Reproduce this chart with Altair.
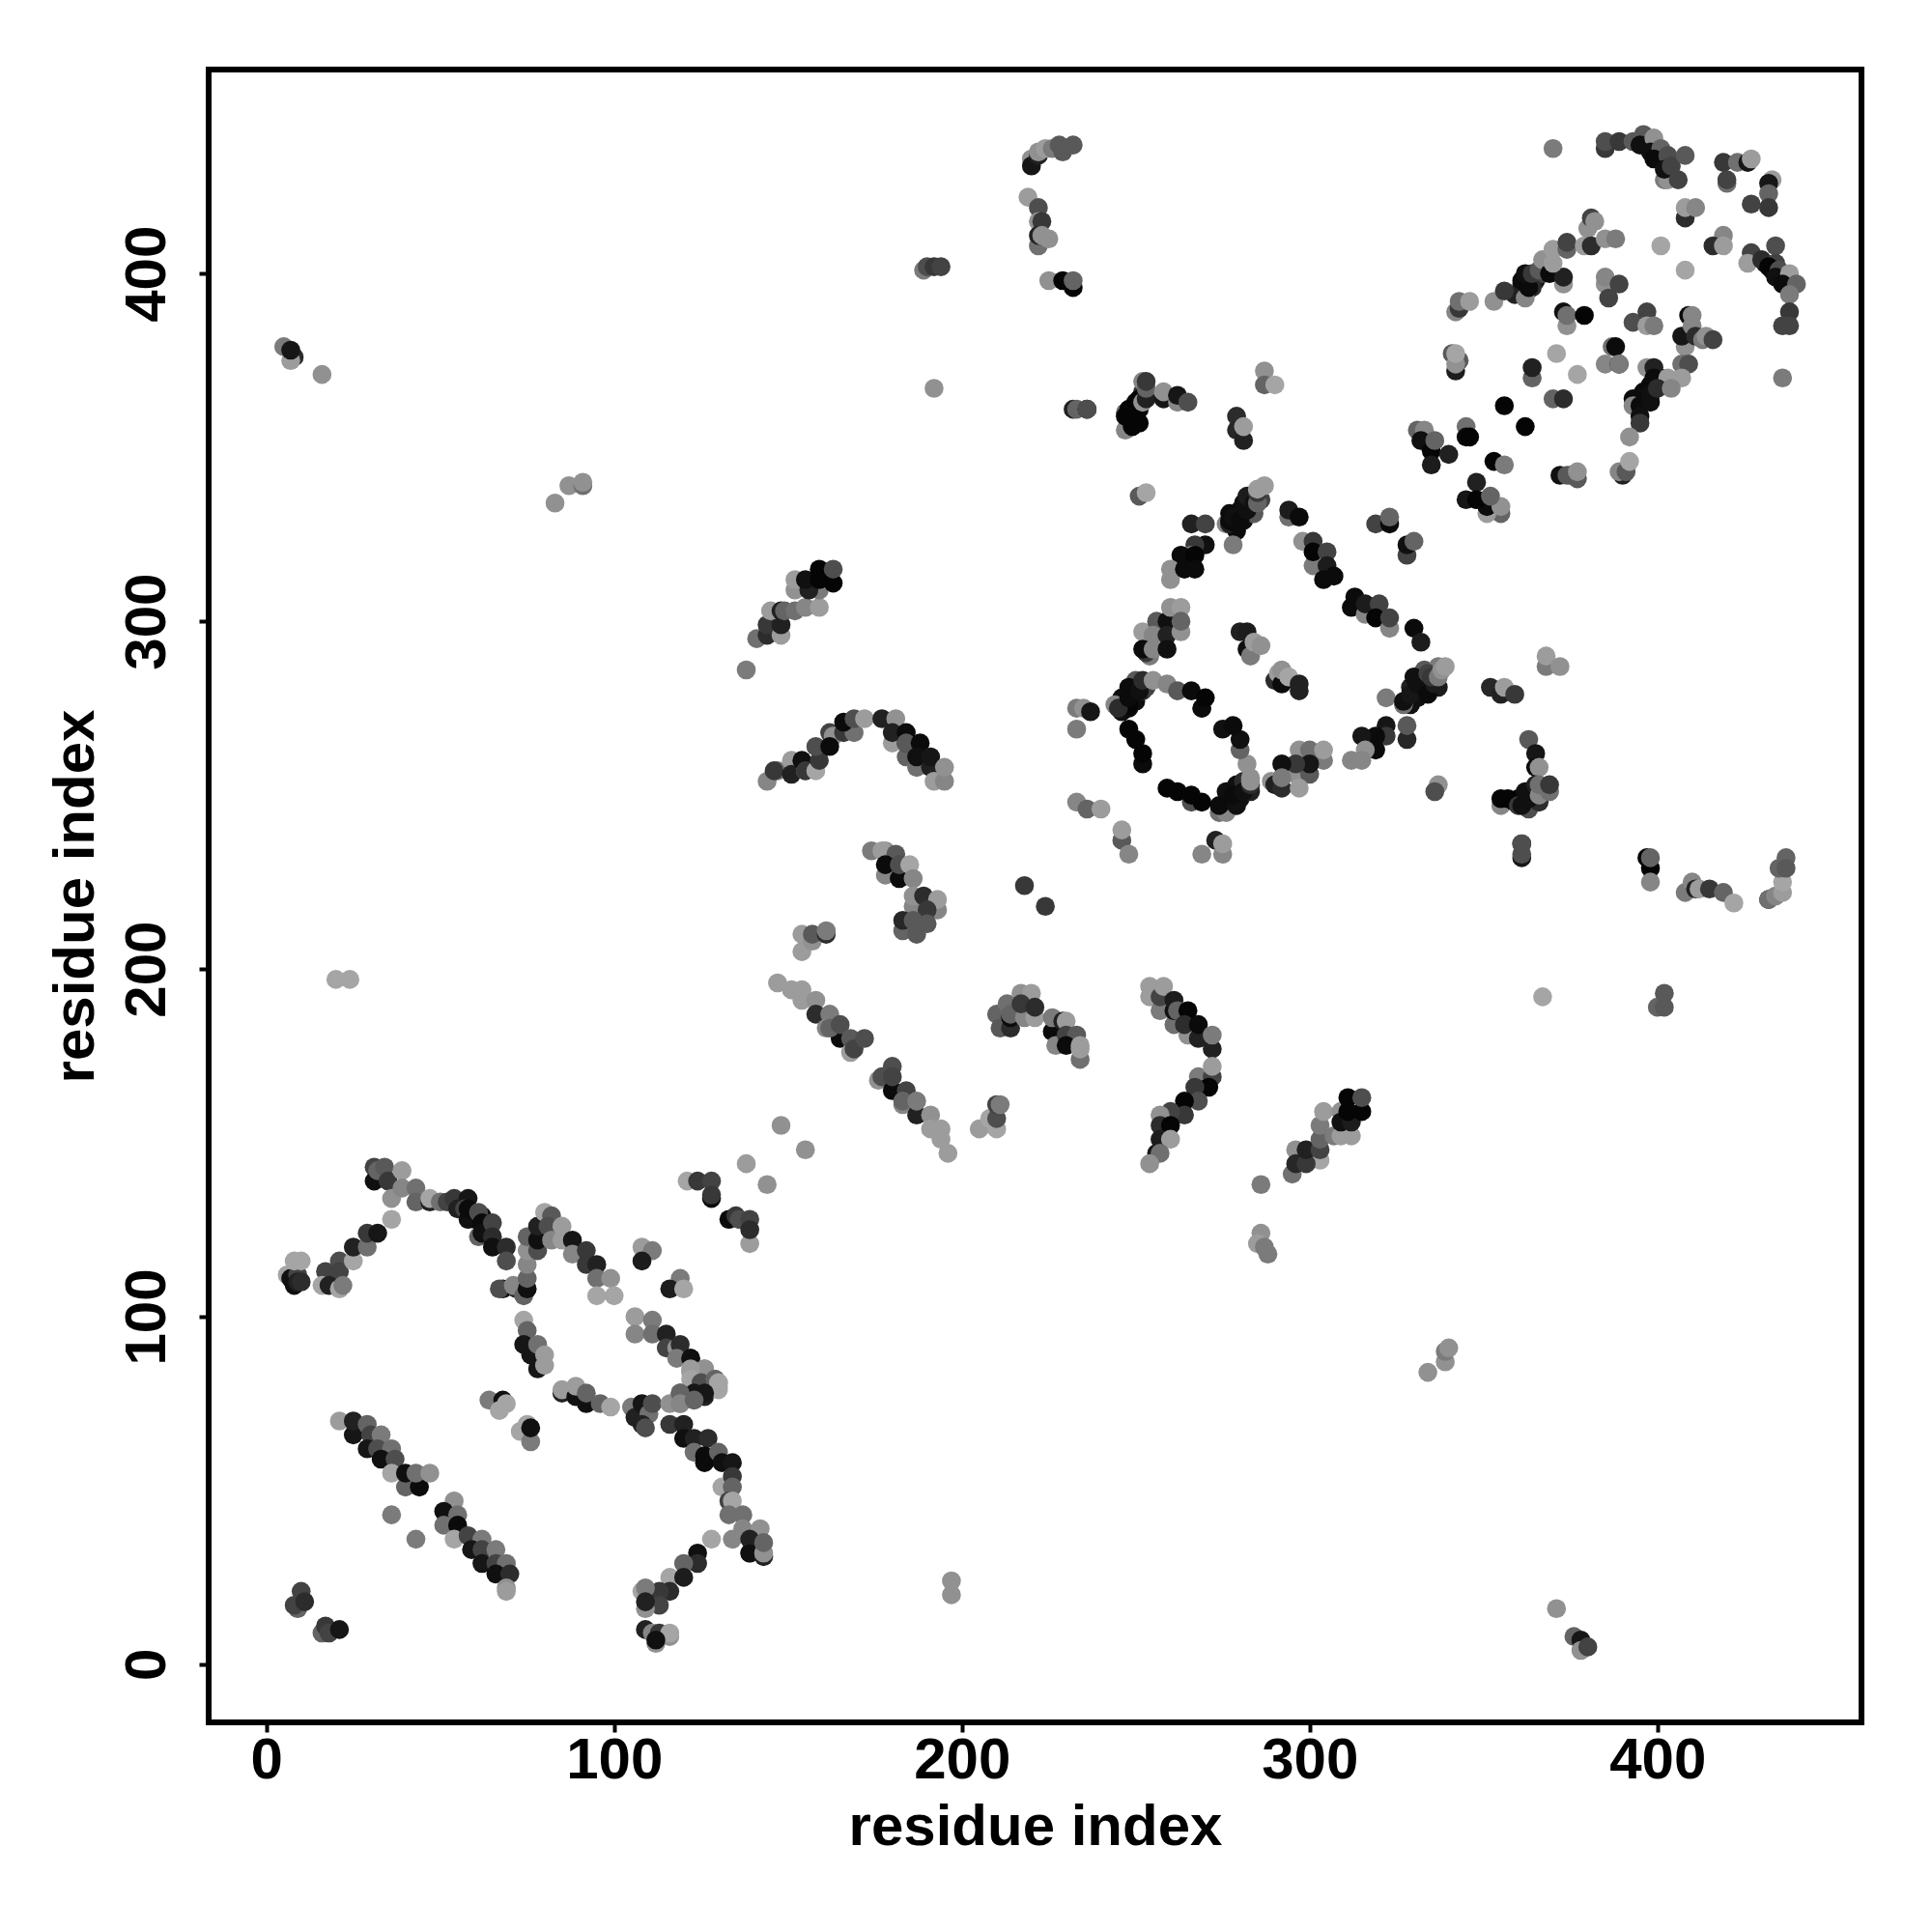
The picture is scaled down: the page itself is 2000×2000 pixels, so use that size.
import altair as alt
import pandas as pd

# (residue i, residue j, grey level)
dense_bands = [(277,331,10),(279,331,15),(280,332,10),(281,334,15),(283,336,20),(279,326,10),(281,329,15),(283,331,20),(284,331,80),(286,335,60),
(329,276,15),(331,278,15),(333,281,10),(329,281,30),(331,284,15),(335,281,20),(337,281,25),(333,286,80),(337,287,110),
(276,248,10),(278,247,10),(280,249,15),(276,251,15),(279,253,15),(281,254,40),(283,251,30),
(246,274,15),(248,275,10),(250,277,15),(246,278,15),(248,276,5),(252,280,40),(250,283,80),(253,281,60),
(361,397,5),(359,394,30),(365,398,20),(367,400,60),(364,396,40),(396,366,10),(395,364,15),(398,368,10),(401,370,30),(393,364,10),
(400,433,60),(402,433,90),(404,428,80),(402,432,15),(433,401,10),(435,399,10),(431,403,10),(437,398,60),
(60,128,10),(62,129,15),(63,125,15),(360,249,5),(362,248,10),(363,246,70),(364,250,15),(366,248,40),
(249,358,5),(251,361,5),(252,366,50),(250,363,10),(248,358,5),(251,357,5)]

low_left = [(31,143,60),(31,139,15),(32,142,90),(34,143,80),(35,139,50),(36,134,130),(36,128,150),(39,142,140),(39,137,120),(43,137,100),(43,133,90),
(47,133,30),(47,134,150),(50,133,100),(52,133,60),(54,134,50),(55,131,30),(58,134,20),(57,131,60),(58,128,15),(58,131,10),(61,130,70),(61,123,90),(62,127,10),(62,124,15),(65,127,60),(65,123,40),(65,120,15),(69,120,40),(69,116,70),
(6,112,150),(7,111,15),(8,109,15),(9,112,60),(9,110,30),(10,110,40),(8,116,150),(10,116,150),
(17,113,60),(21,116,70),(21,113,60),(16,109,150),(18,109,30),(21,108,150),(22,109,110),(25,116,150),(25,120,30),(29,120,100),(29,124,50),(32,124,20),
(68,108,20),(67,108,70),(72,108,40),(71,109,120),(74,106,90),(75,108,15),(75,111,90),(75,115,120),(75,119,130),(78,119,70),(75,123,90),(78,122,15),(78,126,30),(80,130,150),(82,129,80),(81,126,70),(82,122,120),(85,122,140),(85,126,140),(88,122,20),(88,118,120),(92,119,50),(92,115,50),(95,115,30),(95,111,100),(99,111,130),(95,106,150),(100,106,150),
(74,99,150),(75,96,90),(74,92,20),(76,89,20),(78,92,100),(78,85,20),(80,89,140),(80,86,140),
(64,76,110),(68,76,15),(67,73,150),(69,75,150),(73,67,150),(75,69,150),(76,64,110),(76,68,15),
(85,78,30),(85,79,140),(89,77,15),(89,80,140),(92,75,15),(92,78,90),(96,75,90),(99,74,150),
(21,70,140),(25,66,20),(25,70,30),(29,69,90),(30,66,60),(33,66,110),(29,62,20),(32,62,70),(36,62,100),(33,59,15),(37,59,70),(36,55,150),(40,51,90),(40,55,15),(44,51,10),(43,55,100),(47,55,130),
(36,43,110),(43,36,110)]

second_diag = [(54,47,130),(51,44,15),(55,43,100),(51,40,100),(55,40,10),(54,36,150),(58,37,60),(62,36,110),(59,33,20),(62,33,60),(66,33,110),(62,29,20),(66,29,60),(69,29,100),(66,26,15),(70,26,40),(69,22,130),(69,21,140)]

mid_left = [(105,74,110),(106,71,30),(108,75,20),(110,72,100),(111,75,70),(108,69,30),(109,68,70),
(116,75,130),(119,75,120),(119,78,90),(122,78,15),(123,76,90),(126,77,30),(129,82,90),(130,81,150),(130,80,150),(126,82,90),(126,85,130),(122,84,140),(122,88,20),
(106,100,140),(106,95,120),(111,99,110),(111,95,100),(115,95,30),(115,91,60),(118,91,130),(119,92,40),(118,88,110),(122,88,15),(126,85,130),(122,85,140),(122,82,150),(125,81,70),(129,82,90),(130,81,150),(130,79,150),(126,78,20),(123,78,20),(119,78,90),(119,75,120),(123,76,90),
(108,120,140),(111,119,110),(108,116,25),(119,111,110),(116,108,25),(120,108,150),
(121,139,150),(124,139,50),(128,139,60),(128,134,10),(128,135,50),(133,128,10),(135,129,50),(136,128,70),(139,128,60),(139,121,140),(139,125,40),(138,144,140),(144,138,130),(148,155,130),(155,148,130),
(116,69,50),(120,69,30),(120,65,15),(123,65,30),(127,65,40),(123,61,100),(126,60,10),(126,58,10),(130,61,90),(131,58,15),(134,58,20),(131,51,150),(134,54,50),(134,51,90),(133,47,60),(134,47,150),(133,43,100),(137,43,100),(137,39,120),(142,39,130),(134,36,120),(139,36,30),(139,32,100),(139,32,15),(143,31,30),(143,32,130),(143,35,90),(128,36,150),
(124,32,15),(124,29,40),(120,29,90),(116,25,150),(120,25,25),(116,21,40),(113,21,50),(108,21,150),(109,22,110),(113,17,60),(109,16,130),(109,18,30),
(109,10,30),(111,9,120),(113,9,50),(116,8,130),(116,9,150),(112,6,130),(112,7,15)]

corners = [(9,16,90),(8,17,60),(10,21,60),(11,18,40),(16,9,90),(17,11,50),(18,9,60),(21,10,20),
(5,379,110),(8,376,40),(7,375,140),(7,378,20),(16,371,130),(20,197,150),(24,197,150),
(83,334,130),(87,339,130),(91,339,100),(91,340,130),(197,24,130),(197,20,130),
(192,367,130),(189,401,110),(190,402,70),(192,402,50),(194,402,60),
(334,84,130),(339,87,130),(339,90,110),(340,91,130),
(371,16,130),(376,8,90),(378,7,20),(378,4,130),(380,5,60),
(286,138,110),(286,124,130),(285,121,140),(287,120,110),(288,118,110)]

arc_upper = [(138,286,110),(141,295,100),(144,296,40),(144,299,50),(148,296,140),(148,299,30),(145,303,140),(148,303,30),(149,303,90),(152,303,100),(155,304,120),(159,304,140),(152,309,130),(152,312,140),(159,309,110),(156,309,30),(155,312,15),(159,315,5),(159,312,5),(163,311,5),(163,315,70),
(144,254,120),(147,257,110),(146,257,50),(151,260,140),(151,256,30),(155,257,130),(154,260,15),(155,257,50),(158,257,150),(159,260,50),(158,264,70),(162,268,60),(163,267,130),(162,264,10),(166,268,50),(169,268,100),(166,271,10),(169,272,70),(172,272,140),
(177,272,30),(181,272,130),(180,265,140),(180,268,30),(184,268,10),(184,261,90),(184,265,15),(184,265,80),(188,265,10),(187,258,100),(187,261,15),(191,258,30),(191,261,20),(192,254,140),(195,254,120),(195,258,130)]

mid_groups = [(174,234,110),(178,234,130),(177,234,140),(181,233,80),(178,227,120),(178,230,10),(182,226,10),(182,230,70),(185,230,150),(186,226,120),(186,218,120),(186,221,130),(189,221,40),(193,217,120),(193,220,140),(190,217,50),(183,211,90),(183,214,35),(187,210,80),(186,214,80),(190,213,80),
(154,205,140),(154,210,140),(157,208,130),(157,210,80),(161,210,40),(161,211,110),
(147,196,140),(151,194,140),(154,194,140),(154,191,140),(158,191,130),(158,187,40),(162,187,110),(161,183,120),(165,180,10),(162,183,90),(165,184,70),(168,176,140),(168,180,80),(169,177,60),(172,180,70),
(176,168,130),(177,169,70),(180,165,10),(180,172,70),(180,169,60),(183,161,120),(184,165,60),(183,162,90),(187,158,30),(187,162,110),(191,158,130),(191,154,140),(194,154,140),(194,151,140),(196,147,140),
(205,154,140),(210,154,150),(208,157,150),(210,157,70),(210,161,60),(211,161,110),(218,224,50),(224,218,50)]

chevrons = [(210,187,90),(211,183,80),(213,190,100),(214,183,40),(214,186,10),(214,187,90),(217,193,130),(220,193,140),(218,186,120),(221,186,140),(217,190,50),(221,189,40),
(226,182,10),(226,186,110),(229,185,30),(230,185,140),(227,178,120),(230,181,60),(233,181,80),(230,178,10),(234,178,140),(234,174,100),(234,177,140),
(254,195,140),(254,192,140),(257,188,110),(257,192,60),(258,195,140),(261,184,100),(261,188,15),(261,191,25),(262,188,90),(265,188,5),(265,181,130),(264,184,40),(268,180,30),(268,184,10),(272,177,30),(272,181,110),(268,169,110),(272,169,60),(272,172,140),(271,166,5),(267,166,50),(268,162,70),(264,162,5),(264,158,50),(260,159,60),(257,158,130),(257,155,40),(260,155,5),(256,147,20),(257,151,25),(260,151,140),(257,147,100),(254,144,130),
(303,145,150),(296,148,130),(295,141,100),(296,144,35),(299,144,50),(299,148,30),(303,148,60),(303,151,90),(303,155,110),(304,159,140),(307,152,110),(309,152,140),(312,152,140),(309,159,130),(309,156,15),(312,156,25),(311,159,5),(311,163,5),(315,159,5),(315,163,70)]

ring = [(251,336,80),(253,337,150),(276,328,120),(278,322,110),(277,328,30),(279,328,10),(277,329,10),(278,330,15),(280,329,10),(282,332,15),(282,336,25),(284,334,15),(285,334,90),(285,337,50),(285,338,140),(287,339,140),
(266,328,30),(270,328,60),(270,322,15),(267,322,50),(266,319,120),(263,319,10),(267,319,5),(260,315,130),(260,312,130),(264,315,10),(267,315,10),
(294,330,100),(294,332,25),(297,330,10),(298,323,130),(301,323,50),(301,316,110),(301,320,5),(305,313,120),(305,320,60),(305,316,25),(304,312,10),(307,313,10),
(312,304,10),(313,307,10),(316,302,120),(316,305,25),(320,305,60),(319,301,5),(323,298,120),(323,301,60),
(319,328,60),(323,328,10),(323,330,90),(328,319,60),(328,322,15),(330,323,90),(330,298,10),(332,294,25),
(322,278,110),(327,276,100),(327,277,15),(329,279,20),(331,282,15),(330,284,15),(334,279,10),(334,285,60),(336,282,25),(335,284,50),(337,284,110),(338,286,130),(339,287,140),
(328,266,35),(328,270,80),(322,270,20),(322,267,50),(319,267,10),(315,267,20),(319,263,10),(316,263,130),(312,260,120),(315,260,120),
(297,263,130),(300,263,100),(304,260,110),(304,263,140),(296,256,130),(300,256,80),(300,259,20),(296,259,50),(292,259,15),(289,254,130),(290,253,30),(292,252,40),(292,255,110),(297,252,140),
(282,259,130),(280,263,90),(280,266,15),(275,269,15),(278,270,10),
(274,245,100),(276,245,120),(274,247,10),(279,247,15),(278,250,10),(281,251,15),(283,253,40),(283,254,130),(283,255,130),
(266,248,70),(269,248,5),(266,250,5),(262,251,5),(259,252,5),(252,259,10),(252,262,5),(250,266,5),(248,269,5),
(244,276,120),(245,275,40),(248,278,10),(248,281,10),(251,280,15),(252,283,40),(255,283,130),(259,282,120),(262,280,80),(266,280,10),(269,275,140),(269,275,10),(270,278,5),
(233,275,110),(235,275,130),(237,274,20),(233,269,110),
(252,297,140),(256,300,80),(255,296,120),(259,300,15),(259,296,30),(260,304,130),(263,304,140),(263,297,130),(263,300,90),(254,290,110),(253,291,50),(252,292,10),(255,292,120),(259,292,15),
(280,297,30),(282,297,25),(282,292,15),(283,290,110),(284,294,140),(286,293,130),
(290,283,40),(291,285,140),(292,282,10),(292,286,130),(294,284,150),(297,282,30),(297,280,30),
(233,248,120),(236,246,90),(240,246,140),(246,237,80),(246,240,140),(248,233,120),
(269,233,120),(273,237,30),(275,233,120),(275,236,140),(337,253,130),(336,251,70)]

right_mid = [(352,281,35),(355,279,30),(356,281,140),(359,279,50),(368,287,110),(368,290,140),(372,287,130),
(363,266,80),(365,262,20),(365,258,10),(366,258,130),(355,247,120),(355,249,5),(357,249,5),(359,248,5),(360,247,50),(361,247,15),(362,251,15),(363,249,15),(365,253,30),(366,250,120),(366,253,100),(369,251,100),(369,253,50),
(361,236,30),(361,236,70),(361,232,20),(361,233,70),(397,232,5),(398,229,5),(398,225,120),(398,232,90),
(408,222,110),(410,225,120),(411,223,30),(412,223,140),(415,223,50),(419,222,90),(422,219,150),
(432,220,15),(432,220,100),(434,221,120),(436,222,140),(436,225,150),(435,229,90),(437,232,90),(437,229,80),
(367,192,150),(400,189,90),(402,189,80),(402,193,80)]

top_right = [(370,436,110),(385,436,50),(385,438,70),(389,438,50),(393,438,80),(396,440,80),(395,437,15),(399,439,130),(398,435,15),(401,436,90),(399,433,10),(403,434,70),(402,427,110),(403,427,130),(402,430,15),(404,431,60),(408,434,80),(406,427,60),
(419,432,50),(423,432,100),(426,432,20),(427,433,140),(420,426,100),(420,427,60),(433,427,140),(432,426,20),(432,423,90),(432,419,50),(427,420,60),
(408,416,40),(408,419,140),(411,419,120),(419,411,120),(416,408,40),(419,408,140),(401,408,150),(408,401,150),(434,408,70),
(427,406,60),(426,403,140),(430,404,40),(434,403,60),(432,402,5),(435,401,70),(434,399,15),(438,400,140),(436,397,10),(440,397,90),(438,394,110),(438,389,50),(436,385,60),(438,385,60),(436,370,110),
(353,392,130),(362,393,120),(356,395,50),(361,398,10),(363,396,10),(362,400,15),(364,400,50),(366,401,80),(367,404,130),(370,407,140),(373,397,130),(369,400,10),(373,399,30),(370,403,140),(374,407,90),(374,409,60),
(379,408,140),(380,413,130),(381,416,60),(382,415,130),(381,408,40),(385,410,130),(388,410,110),
(342,389,120),(343,390,50),(343,392,100),(346,392,140),(341,377,80),(342,372,25),(343,375,80),(342,374,130),(342,377,150),
(374,385,130),(373,389,15),(374,388,100),(379,388,5),(385,397,130),(385,399,120),(389,397,60),(386,393,60),
(393,386,70),(397,389,60),(397,385,140),(399,385,110),
(408,379,130),(407,382,20),(409,388,10),(410,388,120),(410,385,120),(411,382,40),(413,381,110),(414,382,130),(416,381,60),
(387,379,100),(388,379,10),(385,374,120),(389,374,15),(389,374,110),(371,377,150),(377,371,150),
(364,370,90),(364,373,30),(370,364,90),(373,364,40),(356,362,5),(362,356,5),
(397,373,130),(399,373,30),(399,370,10),(407,374,100),(409,374,70),(403,370,140),(407,370,140),(393,362,120),(395,362,10),(398,365,15),(398,363,15),(395,359,15),(400,367,40),(404,367,120),(395,357,50),(392,353,130),
(345,356,100),(345,353,10),(346,353,5),
(331,355,90),(333,355,120),(334,351,120),(332,352,15),(335,349,5),(336,352,90),(340,348,30),(335,345,25),
(353,346,5),(356,345,110),(348,340,30),(355,331,90),(351,331,140),(351,333,10),(345,335,20),(348,335,5),(355,333,130),(352,336,90),
(372,342,15),(375,342,60),(374,342,80),(377,341,80),(377,343,130),(390,342,30),(389,343,120),(391,343,80),(392,346,150)]

top_mid = [(220,433,130),(220,431,20),(222,434,30),(222,435,130),(224,436,140),(226,436,110),(229,435,80),(228,437,80),(232,437,80),
(219,422,140),(222,419,70),(222,415,130),(223,415,50),(222,408,100),(222,411,30),(223,411,130),(225,410,130),
(225,398,130),(232,396,5),(229,398,5),(232,398,90),
(232,361,30),(233,361,90),(236,361,10),(236,361,70),
(247,355,120),(247,360,100),(247,359,5),(249,356,5),(248,361,5),(250,360,5),(251,364,5),(252,369,120),(252,363,130),(253,364,30),(253,367,90),(253,369,50),
(258,364,20),(258,366,130),(262,363,120),(262,365,20),(265,363,70),
(279,359,40),(279,355,35),(281,352,30),(281,356,140),(287,372,130),(287,368,90),(290,368,150)]

groups = [dense_bands, low_left, second_diag, mid_left, corners, arc_upper, mid_groups, chevrons, ring, right_mid, top_right, top_mid]
rows = [p for g in groups for p in g]
df = pd.DataFrame(rows, columns=["i", "j", "grey"])
df["colour"] = [f"#{min(int(g * 1.12), 165):02x}{min(int(g * 1.12), 165):02x}{min(int(g * 1.12), 165):02x}" for g in df["grey"]]

ticks = [0, 100, 200, 300, 400]
FONT = "Liberation Sans"

x_axis = alt.Axis(values=ticks, domain=False, grid=False, tickSize=10, tickWidth=4, tickColor="black",
                  labelFont=FONT, labelFontSize=60, labelFontWeight="bold", labelColor="black", labelPadding=0,
                  labelFlush=False, labelOverlap=False, title="residue index", titleFont=FONT, titleFontSize=60,
                  titleFontWeight="bold", titleColor="black", titlePadding=10)
y_axis = alt.Axis(values=ticks, domain=False, grid=False, tickSize=10, tickWidth=4, tickColor="black",
                  labelFont=FONT, labelFontSize=60, labelFontWeight="bold", labelColor="black", labelPadding=54,
                  labelAngle=270, labelAlign="center", labelBaseline="middle", labelFlush=False, labelOverlap=False,
                  title="residue index", titleFont=FONT, titleFontSize=60, titleFontWeight="bold",
                  titleColor="black", titlePadding=13)

chart = alt.Chart(df).mark_circle(size=385, opacity=1).encode(
    x=alt.X("i:Q", scale=alt.Scale(domain=[-16.6, 458.7], nice=False, zero=False), axis=x_axis),
    y=alt.Y("j:Q", scale=alt.Scale(domain=[-16.7, 458.7], nice=False, zero=False), axis=y_axis),
    color=alt.Color("colour:N", scale=None),
).properties(
    width=1711, height=1711,
    autosize=alt.AutoSizeParams(type="none"),
    padding={"left": 208, "top": 64, "right": 60, "bottom": 200},
).configure_view(stroke="black", strokeWidth=6)

chart.save("out.html", embed_options={"renderer": "svg", "actions": False})
